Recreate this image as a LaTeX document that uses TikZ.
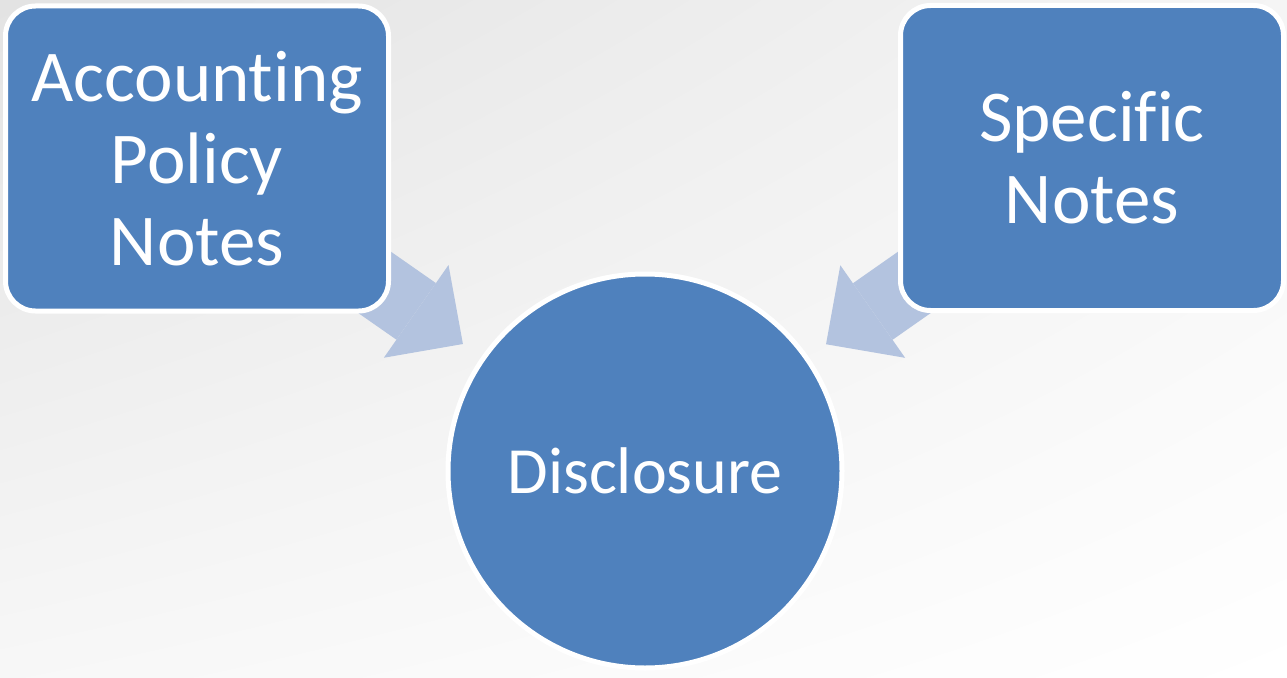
\documentclass[tikz,border=0pt]{standalone}
\usepackage{fontspec}
\setmainfont{Carlito}[Ligatures=NoCommon]
\usetikzlibrary{arrows.meta,calc,shapes.geometric,shadings}
\pgfdeclarelayer{background}
\pgfdeclarelayer{arrowlayer}
\pgfsetlayers{background,arrowlayer,main}
\definecolor{boxblue}{HTML}{4F81BD}
\definecolor{arrowblue}{HTML}{B3C3DF}
\tikzset{
  notebox/.style={draw=white, line width=5pt, fill=boxblue, rounded corners=30pt,
    minimum width=383pt, minimum height=305pt, inner sep=0pt, align=center,
    text=white, font=\fontsize{73}{82}\selectfont},
  hubcircle/.style={draw=white, line width=5pt, fill=boxblue, circle,
    minimum size=394pt, inner sep=0pt, align=center,
    text=white, font=\fontsize{66}{74}\selectfont},
  bigarrow/.style={draw=arrowblue, line width=69pt,
    -{Triangle[length=57pt,width=113pt,line width=0pt]}}
}
\begin{document}
\begin{tikzpicture}[x=1pt,y=-1pt]
  \useasboundingbox (0,0) rectangle (1287,677);
  % soft grey-to-white backdrop
  \begin{pgfonlayer}{background}
    \shade[upper left=white!89!black, upper right=white!96!black,
           lower left=white!97!black, lower right=white]
      (0,0) rectangle (1287,677);
  \end{pgfonlayer}

  \node[notebox] (acc) at (197,158.5) {Accounting\\Policy\\Notes};
  \node[notebox] (spec) at (1092,158) {Specific\\Notes};
  \node[hubcircle] (disc) at (645,471) {Disclosure};

  % block arrows feeding the circle
  \begin{pgfonlayer}{arrowlayer}
    \coordinate (tipL) at ($(disc.center)!222pt!(acc.center)$);
    \coordinate (tipR) at ($(disc.center)!221pt!(spec.center)$);
    \draw[bigarrow] (acc.center) -- (tipL);
    \draw[bigarrow] (spec.center) -- (tipR);
  \end{pgfonlayer}
\end{tikzpicture}
\end{document}
